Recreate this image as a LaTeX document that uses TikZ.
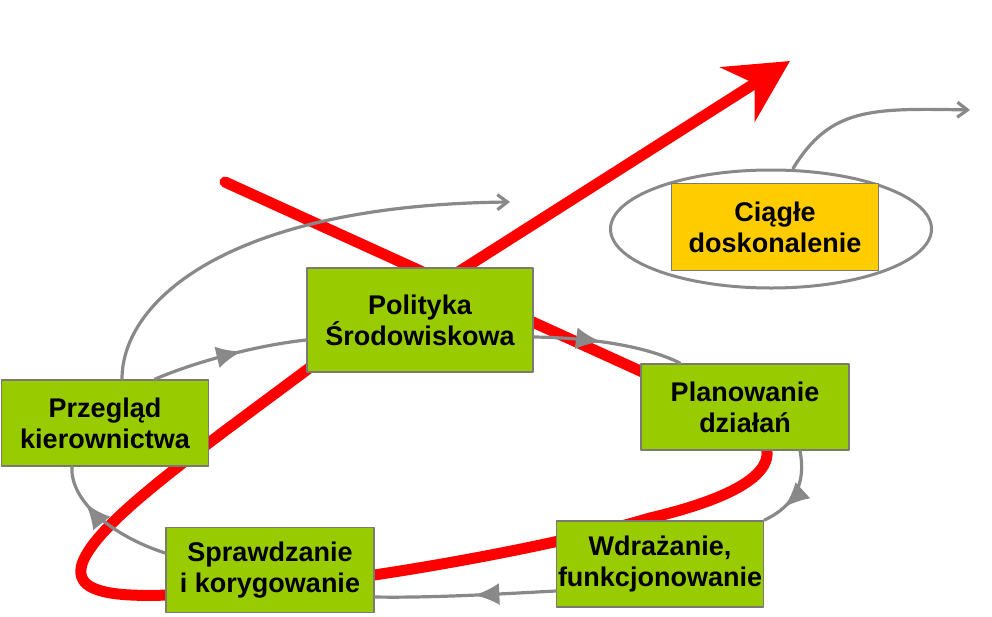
\documentclass[tikz,border=0pt]{standalone}
\usepackage{fontspec}
\setmainfont{Liberation Sans}
\usetikzlibrary{arrows.meta,shapes.geometric,decorations.markings}
\definecolor{stepgreen}{HTML}{99CC00}
\definecolor{goalyellow}{HTML}{FFCC00}
\definecolor{loopred}{HTML}{FF0000}
\definecolor{flowgray}{HTML}{898989}
\definecolor{edgegray}{HTML}{7A7A72}

\tikzset{
  stepbox/.style={draw=edgegray,line width=1.8pt,fill=stepgreen,align=center,
    inner sep=1pt,font=\bfseries\fontsize{27}{31}\selectfont},
  flow/.style={flowgray,line width=3.2pt},
  midarrow/.style={postaction=decorate,decoration={markings,
    mark=at position #1 with {\arrow{Latex[length=25pt,width=22pt]}}}},
}

\begin{document}
\begin{tikzpicture}[x=1pt,y=-1pt,line cap=round,line join=round]
  \useasboundingbox (0,0) rectangle (992,616);

  % The red improvement loop runs behind the boxes.
  \draw[loopred,line width=11pt,-{Stealth[length=62pt,width=64pt,inset=20pt]}]
    (225,182) -- (715,405)
    .. controls (792,440) and (794,484) .. (650,518)
    .. controls (560,545) and (380,578) .. (270,588)
    .. controls (150,598) and (70,604) .. (82,564)
    .. controls (96,522) and (200,450) .. (320,360)
    -- (790,61);

  % PDCA steps.
  \node[stepbox,minimum width=226pt,minimum height=104pt] (polityka) at (420,320)
    {Polityka\\Środowiskowa};
  \node[stepbox,minimum width=208pt,minimum height=86pt] (planowanie) at (745,407)
    {Planowanie\\działań};
  \node[stepbox,minimum width=207pt,minimum height=86pt] (wdrazanie) at (660,564)
    {Wdrażanie,\\funkcjonowanie};
  \node[stepbox,minimum width=208pt,minimum height=85pt] (sprawdzanie) at (270,570)
    {Sprawdzanie\\i korygowanie};
  \node[stepbox,minimum width=207pt,minimum height=86pt] (przeglad) at (105,423)
    {Przegląd\\kierownictwa};

  % Continuous improvement, ringed.
  \node[draw=flowgray,line width=3pt,ellipse,minimum width=321pt,minimum height=118pt]
    (ring) at (771,229) {};
  \node[stepbox,fill=goalyellow,minimum width=207pt,minimum height=87pt] (ciagle) at (775,227)
    {Ciągłe\\doskonalenie};

  % Grey cycle connectors.
  \coordinate (nextcycle) at (510,202);
  \coordinate (onward) at (970,110);
  \draw[flow,-{Straight Barb[length=10pt,width=15pt]}]
    ([xshift=17pt]przeglad.north) .. controls (122,300) and (230,205) .. (nextcycle);
  \draw[flow,midarrow=0.58]
    ([xshift=50pt]przeglad.north) .. controls (200,360) and (260,345) .. ([yshift=-20pt]polityka.west);
  \draw[flow,midarrow=0.45]
    ([yshift=-17pt]polityka.east) .. controls (600,338) and (650,348) .. ([xshift=-65pt]planowanie.north);
  \draw[flow,midarrow=0.72]
    ([xshift=55pt]planowanie.south) .. controls (806,482) and (796,505) .. (wdrazanie.north east);
  \draw[flow,midarrow=0.45]
    ([yshift=-27pt]wdrazanie.west) .. controls (500,594) and (430,598) .. ([yshift=-27pt]sprawdzanie.east);
  \draw[flow,midarrow=0.7]
    ([yshift=17pt]sprawdzanie.west) .. controls (110,535) and (70,500) .. ([xshift=-33pt]przeglad.south);
  \draw[flow,-{Straight Barb[length=10pt,width=15pt]}]
    ([xshift=22pt]ring.north) .. controls (830,108) and (870,108) .. (onward);
\end{tikzpicture}
\end{document}
